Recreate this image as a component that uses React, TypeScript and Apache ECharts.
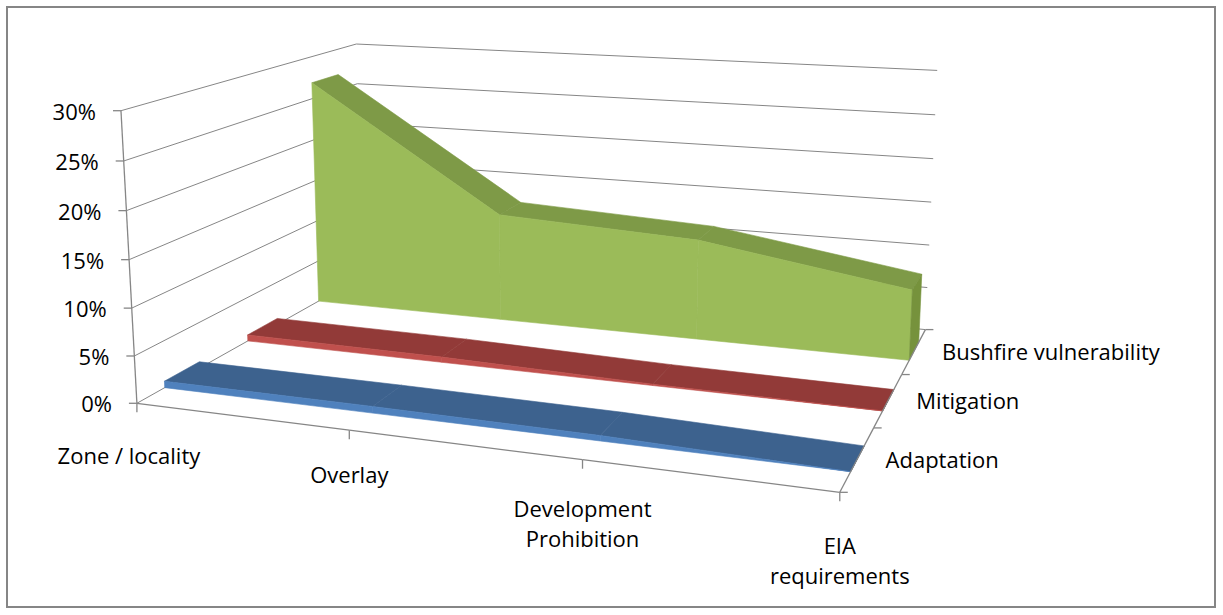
import React, { useEffect, useRef } from 'react';
import * as echarts from 'echarts';

// ---------- data ----------
const categories = ['Zone / locality', 'Overlay', 'Development\nProhibition', 'EIA\nrequirements'];
const seriesNames = ['Adaptation', 'Mitigation', 'Bushfire vulnerability'];
const adaptation = [0.7, 0.7, 0.55, 0.0];
const mitigation = [0.7, 0.6, 0.15, 0.0];
const bushfire = [26.9, 12.6, 11.5, 7.9];
const yTickValues = [0, 5, 10, 15, 20, 25, 30];
const yTickLabels = ['0%', '5%', '10%', '15%', '20%', '25%', '30%'];
const Y_MIN = 0;
const Y_MAX = 30;

// ---------- styles / layout ----------
const FONT = '22px "Open Sans"';
const GRID_COLOR = '#868686';
const COLORS = [
  { front: '#4F81BD', top: '#3D628E', side: '#35577F' },
  { front: '#C0504D', top: '#923A38', side: '#7E302E' },
  { front: '#9BBB59', top: '#7E9A47', side: '#76923C' },
];
const SLAB_FRONT = 0.3;
const SLAB_BACK = 0.7;
// label offsets (px) from the category tick foot
const CAT_LABEL_OFFSET = [[-8, 52], [0, 44], [0, 63], [0, 68]];
const DEPTH_LABEL_DX = 28;
const Y_LABEL_DX = -25;

// calibration of the perspective: world (category X, value Y, depth Z) -> screen px
const CALIBRATION: number[][] = [
  [0, 0, 0, 137, 401],
  [0, 5, 0, 134.4, 354],
  [0, 10, 0, 131.9, 308],
  [0, 15, 0, 129.2, 259],
  [0, 20, 0, 126.5, 211],
  [0, 25, 0, 123.8, 161],
  [0, 30, 0, 121, 111],
  [1, 0, 0, 349, 433],
  [2, 0, 0, 582, 463],
  [3, 0, 0, 838, 491],
  [3, 0, 1, 875, 428],
  [3, 0, 2, 904, 374],
  [3, 0, 3, 925, 328],
  [3, 5, 3, 927, 286],
  [3, 15, 3, 931, 203],
  [3, 20, 3, 932, 159],
  [3, 25, 3, 935, 115],
  [3, 30, 3, 938, 71],
  [0, 30, 3, 357, 42],
  [0, 25, 3, 357, 82],
  [0, 20, 3, 358, 123],
  [0, 15, 3, 359, 167],
];

function solveProjection(): number[] {
  const N = 11;
  const A: number[][] = Array.from({ length: N }, () => new Array(N + 1).fill(0));
  const addRow = (r: number[], b: number) => {
    for (let i = 0; i < N; i++) {
      for (let j = 0; j < N; j++) A[i][j] += r[i] * r[j];
      A[i][N] += r[i] * b;
    }
  };
  for (const [X, Yr, Z, u, v] of CALIBRATION) {
    const Y = Yr / 10;
    addRow([X, Y, Z, 1, 0, 0, 0, 0, -u * X, -u * Y, -u * Z], u);
    addRow([0, 0, 0, 0, X, Y, Z, 1, -v * X, -v * Y, -v * Z], v);
  }
  for (let c = 0; c < N; c++) {
    let p = c;
    for (let r = c + 1; r < N; r++) if (Math.abs(A[r][c]) > Math.abs(A[p][c])) p = r;
    const tmp = A[c]; A[c] = A[p]; A[p] = tmp;
    for (let r = 0; r < N; r++) {
      if (r === c) continue;
      const f = A[r][c] / A[c][c];
      for (let k = c; k <= N; k++) A[r][k] -= f * A[c][k];
    }
  }
  return A.map((row, i) => row[N] / row[i]);
}
const M = solveProjection();
function P(X: number, Y: number, Z: number): number[] {
  const y = Y / 10;
  const w = M[8] * X + M[9] * y + M[10] * Z + 1;
  return [(M[0] * X + M[1] * y + M[2] * Z + M[3]) / w, (M[4] * X + M[5] * y + M[6] * Z + M[7]) / w];
}

// map a (category, value) pair through the ECharts cartesian scales into world units
function toWorld(api: any, cat: number, val: number): number[] {
  const nCat = categories.length - 1;
  const o = api.coord([0, Y_MIN]);
  const c = api.coord([nCat, Y_MAX]);
  const p = api.coord([cat, val]);
  return [
    ((p[0] - o[0]) / (c[0] - o[0])) * nCat,
    Y_MIN + ((o[1] - p[1]) / (o[1] - c[1])) * (Y_MAX - Y_MIN),
  ];
}

const line = (a: number[], b: number[], w = 1) => ({
  type: 'line',
  shape: { x1: a[0], y1: a[1], x2: b[0], y2: b[1] },
  style: { stroke: GRID_COLOR, lineWidth: w },
});
const poly = (pts: number[][], fill: string) => ({
  type: 'polygon',
  shape: { points: pts },
  style: { fill, stroke: fill, lineWidth: 0.6 },
});
const text = (x: number, y: number, t: string, align: string) => ({
  type: 'text',
  x,
  y,
  style: { text: t, fill: '#000', font: FONT, align, verticalAlign: 'middle', lineHeight: 30 },
});

const nCat = categories.length - 1;
const nDepth = seriesNames.length;

function wallsSeries() {
  return {
    type: 'custom',
    coordinateSystem: 'cartesian2d',
    clip: false,
    silent: true,
    z: 1,
    data: yTickValues.map((v) => [0, v]),
    renderItem: (params: any, api: any) => {
      const [, Y] = toWorld(api, 0, api.value(1));
      const a = P(0, Y, 0);
      const b = P(0, Y, nDepth);
      const c = P(nCat, Y, nDepth);
      return {
        type: 'group',
        children: [
          { type: 'polyline', shape: { points: [a, b, c] }, style: { stroke: GRID_COLOR, lineWidth: 1, fill: 'none' } },
          line(a, [a[0] - 8, a[1]], 1.3),
          text(a[0] + Y_LABEL_DX, a[1], yTickLabels[params.dataIndex], 'right'),
        ],
      };
    },
  };
}

function areaSeries(name: string, values: number[], k: number) {
  const col = COLORS[k];
  const z0 = k + SLAB_FRONT;
  const z1 = k + SLAB_BACK;
  return {
    type: 'custom',
    name,
    coordinateSystem: 'cartesian2d',
    clip: false,
    silent: true,
    z: 2 + (nDepth - k),
    data: values.map((v, i) => [i, v]),
    renderItem: (params: any, api: any) => {
      const i = params.dataIndex;
      const [X0, Y0] = toWorld(api, i, api.value(1));
      const children: any[] = [];
      if (i < values.length - 1) {
        const [X1, Y1] = toWorld(api, i + 1, values[i + 1]);
        children.push(poly([P(X0, Y0, z0), P(X0, Y0, z1), P(X1, Y1, z1), P(X1, Y1, z0)], col.top));
        children.push(poly([P(X0, 0, z0), P(X0, Y0, z0), P(X1, Y1, z0), P(X1, 0, z0)], col.front));
      } else {
        children.push(poly([P(X0, 0, z0), P(X0, Y0, z0), P(X0, Y0, z1), P(X0, 0, z1)], col.side));
      }
      return { type: 'group', children };
    },
  };
}

function categoryAxisSeries() {
  return {
    type: 'custom',
    coordinateSystem: 'cartesian2d',
    clip: false,
    silent: true,
    z: 10,
    data: categories.map((_, i) => [i, 0]),
    renderItem: (params: any, api: any) => {
      const i = params.dataIndex;
      const [X] = toWorld(api, i, 0);
      const a = P(X, 0, 0);
      const children: any[] = [line(a, [a[0], a[1] + 9], 1.3)];
      if (i < nCat) {
        const [X1] = toWorld(api, i + 1, 0);
        children.push(line(a, P(X1, 0, 0), 1.3));
      }
      if (i === 0) children.push(line(a, P(X, Y_MAX, 0), 1.3));
      const off = CAT_LABEL_OFFSET[i];
      children.push({
        type: 'text',
        x: a[0] + off[0],
        y: a[1] + off[1],
        style: { text: categories[i], fill: '#000', font: FONT, align: 'center', verticalAlign: 'middle', lineHeight: 30 },
      });
      return { type: 'group', children };
    },
  };
}

function depthAxisSeries() {
  return {
    type: 'custom',
    coordinateSystem: 'cartesian2d',
    clip: false,
    silent: true,
    z: 10,
    data: seriesNames.map(() => [nCat, 0]),
    renderItem: (params: any, api: any) => {
      const k = params.dataIndex;
      const [X] = toWorld(api, api.value(0), 0);
      const a = P(X, 0, k);
      const b = P(X, 0, k + 1);
      const m = P(X, 0, k + 0.5);
      const children: any[] = [line(a, b, 1.3), line(b, [b[0] + 8, b[1]], 1.3)];
      if (k === 0) children.push(line(a, [a[0] + 8, a[1]], 1.3));
      children.push(text(m[0] + DEPTH_LABEL_DX, m[1], seriesNames[k], 'left'));
      return { type: 'group', children };
    },
  };
}

export default function App() {
  const ref = useRef<HTMLDivElement>(null);
  useEffect(() => {
    if (!ref.current) return;
    const chart = echarts.init(ref.current, undefined, { renderer: 'svg' });
    chart.setOption({
      animation: false,
      backgroundColor: '#fff',
      grid: { left: 0, top: 0, width: 300, height: 300, show: false },
      xAxis: { type: 'category', data: categories, boundaryGap: false, show: false },
      yAxis: { type: 'value', min: Y_MIN, max: Y_MAX, interval: 5, show: false },
      graphic: [
        {
          type: 'rect',
          shape: { x: 7, y: 7, width: 1208, height: 600 },
          style: { fill: 'none', stroke: '#868686', lineWidth: 2 },
          z: 0,
        },
      ],
      series: [
        wallsSeries(),
        areaSeries(seriesNames[2], bushfire, 2),
        areaSeries(seriesNames[1], mitigation, 1),
        areaSeries(seriesNames[0], adaptation, 0),
        categoryAxisSeries(),
        depthAxisSeries(),
      ],
    });
    return () => chart.dispose();
  }, []);
  return <div ref={ref} style={{ position: 'absolute', left: 0, top: 0, width: 1223, height: 615 }} />;
}
